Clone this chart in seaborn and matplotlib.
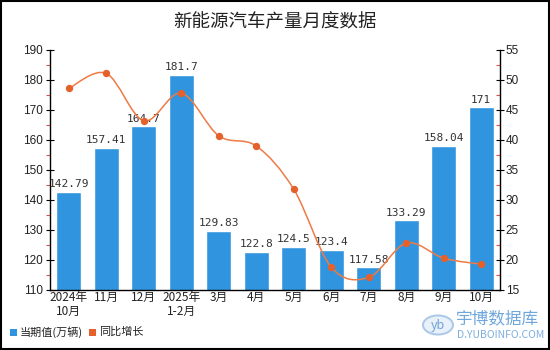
import matplotlib
matplotlib.use("Agg")
import matplotlib.pyplot as plt
import seaborn as sns
import pandas as pd
import numpy as np
from matplotlib.path import Path
from matplotlib.patches import PathPatch, Rectangle, Circle
from matplotlib.ticker import MultipleLocator

categories = ["2024年\n10月", "11月", "12月", "2025年\n1-2月", "3月", "4月", "5月", "6月", "7月", "8月", "9月", "10月"]
production = [142.79, 157.41, 164.7, 181.7, 129.83, 122.8, 124.5, 123.4, 117.58, 133.29, 158.04, 171]
growth = [48.6, 51.1, 43.2, 47.8, 40.7, 39.0, 31.8, 18.8, 17.1, 22.8, 20.3, 19.3]
labels = ["142.79", "157.41", "164.7", "181.7", "129.83", "122.8", "124.5", "123.4", "117.58", "133.29", "158.04", "171"]

sns.set_style("white")
plt.rcParams['font.family'] = ['Noto Sans CJK SC', 'DejaVu Sans']

BAR = "#3095DE"
LINE = "#EE7A45"
MARK = "#E4612C"

fig = plt.figure(figsize=(5.5, 3.5), dpi=100)
fig.patch.set_facecolor("white")
ax = fig.add_axes([50/550, 60/350, 450/550, 240/350])

df = pd.DataFrame({"cat": categories, "val": production})
sns.barplot(data=df, x="cat", y="val", color=BAR, saturation=1, width=0.667, ax=ax)
ax.set_ylim(110, 190)
ax.set_xlim(-0.5, len(categories) - 0.5)
ax.yaxis.set_major_locator(MultipleLocator(10))
ax.yaxis.set_minor_locator(MultipleLocator(5))
ax.tick_params(axis="y", which="major", direction="inout", length=6, width=0.8, colors="black", labelsize=8.5, pad=2)
ax.tick_params(axis="y", which="minor", direction="out", length=3, width=0.8, color="#E05050")
ax.tick_params(axis="x", which="major", length=0, labelsize=8.5, pad=1)
for lab in ax.get_xticklabels():
    lab.set_linespacing(1.05)
    lab.set_color("#222222")
for lab in ax.get_yticklabels():
    lab.set_fontfamily(["Liberation Sans"])
    lab.set_color("#222222")
ax.set_xlabel("")
ax.set_ylabel("")
for s in ["top", "right"]:
    ax.spines[s].set_visible(False)
ax.spines["left"].set_linewidth(1)
ax.spines["bottom"].set_linewidth(1)
ax.spines["left"].set_color("black")
ax.spines["bottom"].set_color("black")

for i, (v, t) in enumerate(zip(production, labels)):
    ax.text(i, v + 0.8, t, ha="center", va="bottom", fontsize=8, color="#333333",
            family=["DejaVu Sans Mono"])

ax2 = ax.twinx()
ax2.set_ylim(15, 55)
ax2.yaxis.set_major_locator(MultipleLocator(5))
ax2.yaxis.set_minor_locator(MultipleLocator(2.5))
ax2.tick_params(axis="y", which="major", direction="inout", length=6, width=0.8, colors="black", labelsize=8.5, pad=1)
ax2.tick_params(axis="y", which="minor", direction="in", length=3, width=0.8, color="#E05050")
for lab in ax2.get_yticklabels():
    lab.set_fontfamily(["Liberation Sans"])
    lab.set_color("#222222")
for s in ["top", "left", "bottom"]:
    ax2.spines[s].set_visible(False)
ax2.spines["right"].set_linewidth(1)
ax2.spines["right"].set_color("black")

# smooth curve (Catmull-Rom as cubic Bezier) through the data points
xs = np.arange(len(growth), dtype=float)
ys = np.array(growth, dtype=float)
verts = [(xs[0], ys[0])]
codes = [Path.MOVETO]
t = 0.5
for i in range(len(xs) - 1):
    p0 = (xs[max(i - 1, 0)], ys[max(i - 1, 0)])
    p1 = (xs[i], ys[i])
    p2 = (xs[i + 1], ys[i + 1])
    p3 = (xs[min(i + 2, len(xs) - 1)], ys[min(i + 2, len(xs) - 1)])
    c1 = (p1[0] + (p2[0] - p0[0]) * t / 3, p1[1] + (p2[1] - p0[1]) * t / 3)
    c2 = (p2[0] - (p3[0] - p1[0]) * t / 3, p2[1] - (p3[1] - p1[1]) * t / 3)
    verts += [c1, c2, p2]
    codes += [Path.CURVE4] * 3
ax2.add_patch(PathPatch(Path(verts, codes), facecolor="none", edgecolor=LINE, lw=1.1, zorder=3))
sns.scatterplot(x=xs, y=ys, ax=ax2, color=MARK, s=28, edgecolor=MARK, linewidth=0, zorder=4, legend=False)

fig.text(0.5, 1 - 22/350, "新能源汽车产量月度数据", ha="center", va="center", fontsize=13.3, color="#222222")

# legend
fig.patches.append(Rectangle((10/550, 1 - 336/350), 7/550, 7/350, transform=fig.transFigure, facecolor=BAR, edgecolor="none"))
fig.text(20/550, 1 - 332/350, "当期值(万辆)", ha="left", va="center", fontsize=8, color="#222222")
fig.patches.append(Rectangle((89/550, 1 - 336/350), 7/550, 7/350, transform=fig.transFigure, facecolor=MARK, edgecolor="none"))
fig.text(99/550, 1 - 332/350, "同比增长", ha="left", va="center", fontsize=8, color="#222222")

# watermark
fig.patches.append(Circle((438/550, 1 - 325/350), 15/550, transform=fig.transFigure, facecolor="#E8F1FA",
                          edgecolor="#A9C8E8", lw=1.4))
fig.text(438/550, 1 - 325/350, "yb", ha="center", va="center", fontsize=9, color="#6FA0D6", style="italic")
fig.text(456/550, 1 - 319/350, "宇博数据库", ha="left", va="center", fontsize=12, color="#6FA6DC")
fig.text(457/550, 1 - 335/350, "D.YUBOINFO.COM", ha="left", va="center", fontsize=7.5, color="#7FAEDF")

# border
fig.patches.append(Rectangle((0.001, 0.002), 0.997, 0.996, transform=fig.transFigure, facecolor="none",
                             edgecolor="black", lw=1.5))

fig.savefig("out.png", dpi=100)
